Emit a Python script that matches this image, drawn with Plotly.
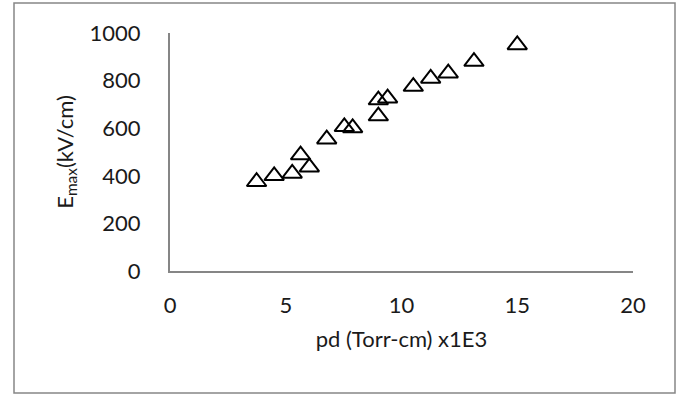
import plotly.graph_objects as go

pd_torr_cm = [3.74, 4.50, 5.28, 5.64, 6.02, 6.77, 7.53, 7.89, 9.00, 9.00, 9.40, 10.51, 11.26, 12.02, 13.13, 15.00]
e_max = [375, 400, 410, 487, 436, 554, 606, 601, 718, 651, 726, 775, 809, 831, 880, 950]

x_ticks = [0, 5, 10, 15, 20]
y_ticks = [0, 200, 400, 600, 800, 1000]

W, H = 682, 396
L, R, T, B = 170, 49, 33, 125
pw, ph = W - L - R, H - T - B

fig = go.Figure()
fig.add_trace(go.Scatter(
    x=pd_torr_cm, y=e_max, mode="markers",
    marker=dict(symbol="triangle-up-open", size=17, color="black",
                line=dict(width=2, color="black")),
    showlegend=False,
))

font = dict(family="Lato, Carlito, Calibri, sans-serif", size=22, color="#1a1a1a")
fig.update_layout(
    width=W, height=H,
    margin=dict(l=L, r=R, t=T, b=B, autoexpand=False),
    paper_bgcolor="white", plot_bgcolor="white",
    font=font,
    xaxis=dict(range=[0, 20], tickvals=x_ticks, showgrid=False, zeroline=False,
               showline=True, linecolor="#868686", linewidth=2, ticks="",
               ticklabelstandoff=14, automargin=False,
               title=dict(text="pd (Torr-cm) x1E3", font=font, standoff=14)),
    yaxis=dict(range=[0, 1000], tickvals=y_ticks, showgrid=False, zeroline=False,
               showline=True, linecolor="#868686", linewidth=2, ticks="",
               ticklabelstandoff=23, automargin=False,
               title=dict(text="E<sub>max</sub>(kV/cm)", font=font, standoff=10)),
    shapes=[dict(type="rect", xref="paper", yref="paper",
                 x0=(14 - L) / pw, x1=(675 - L) / pw,
                 y0=(H - B - 393) / ph, y1=(H - B - 3) / ph,
                 line=dict(color="#868686", width=1.5), fillcolor="rgba(0,0,0,0)",
                 layer="below")],
)

fig.write_html("out.html")
